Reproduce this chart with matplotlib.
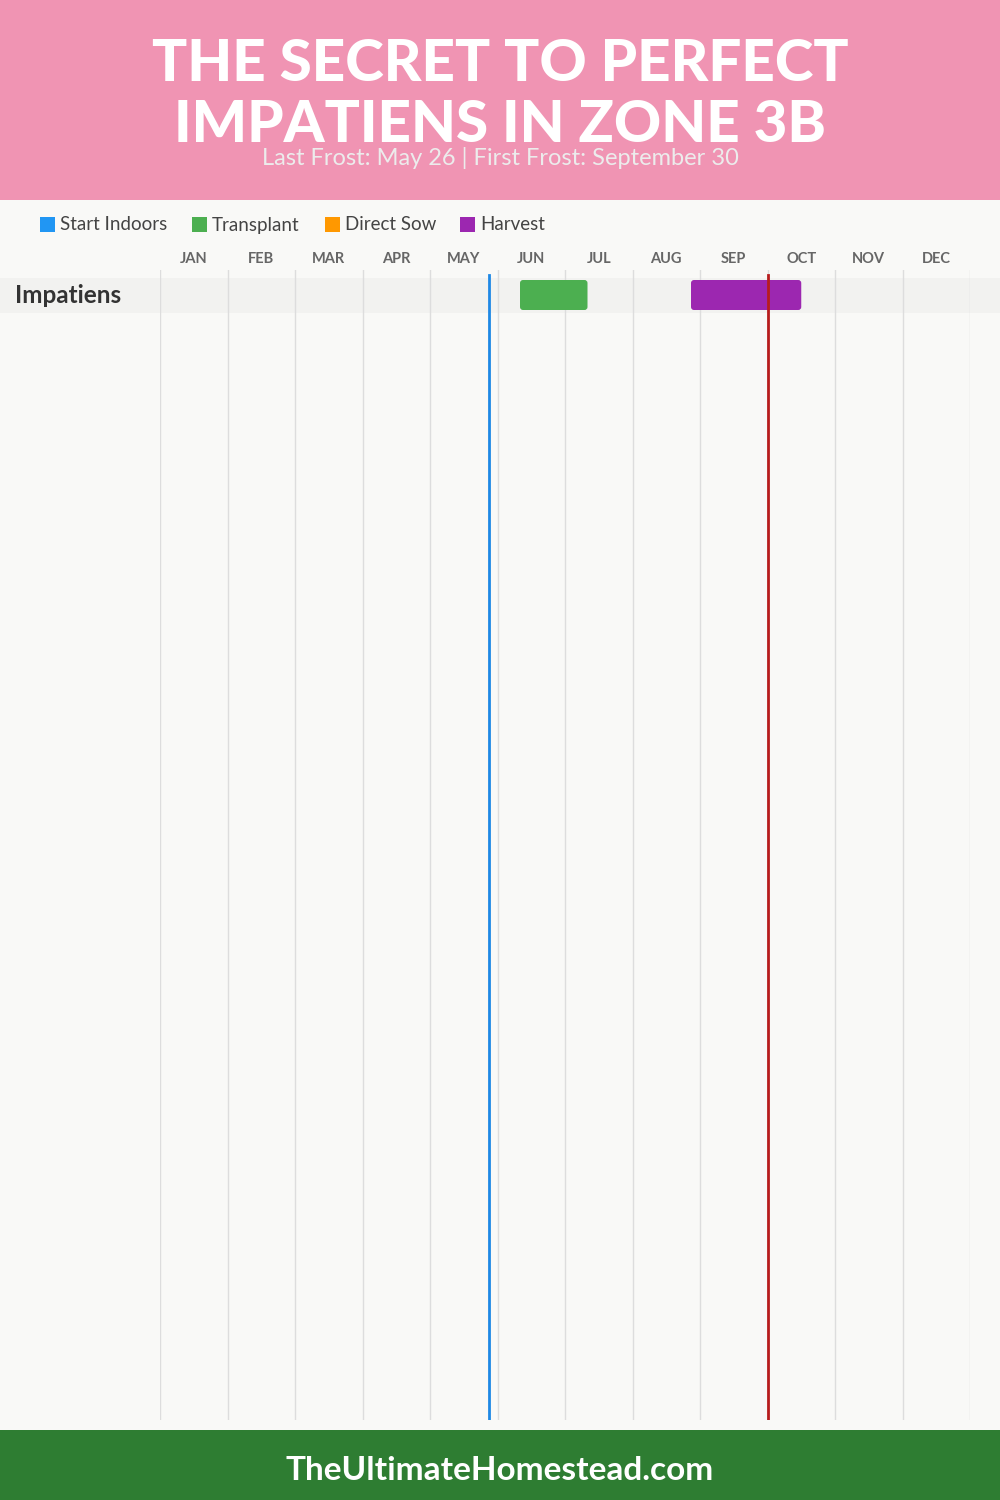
import matplotlib
matplotlib.use("Agg")
import matplotlib.pyplot as plt
from matplotlib.patches import Rectangle, FancyBboxPatch

# ---- data ----
months = ['JAN', 'FEB', 'MAR', 'APR', 'MAY', 'JUN', 'JUL', 'AUG', 'SEP', 'OCT', 'NOV', 'DEC']
crops = ['Impatiens']
transplant = [('06-10', '07-10')]
harvest = [('08-26', '10-15')]
last_frost = '05-26'
first_frost = '09-30'
legend_labels = ['Start Indoors', 'Transplant', 'Direct Sow', 'Harvest']
legend_colors = ['#2196f3', '#4caf50', '#ff9800', '#9c27b0']
title_lines = ['THE SECRET TO PERFECT', 'IMPATIENS IN ZONE 3B']
subtitle = 'Last Frost: May 26 | First Frost: September 30'
footer = 'TheUltimateHomestead.com'


def mpos(s):
    m, d = s.split('-')
    return int(m) - 1 + int(d) / 30.0


FONT = ['Lato', 'DejaVu Sans']
fig = plt.figure(figsize=(10, 15), dpi=100)
fig.patch.set_facecolor('#f9f9f7')

# background axes in pixel coordinates
bg = fig.add_axes([0, 0, 1, 1])
bg.set_xlim(0, 1000)
bg.set_ylim(1500, 0)
bg.axis('off')
bg.add_patch(Rectangle((0, 0), 1000, 200, color='#f094b3', lw=0))
bg.add_patch(Rectangle((0, 1430), 1000, 70, color='#2e7d32', lw=0))
for i, ln in enumerate(title_lines):
    bg.text(500, 81 + i * 61, ln, ha='center', va='baseline', color='white',
            fontsize=42, fontweight='black', family=FONT)
bg.text(500, 165, subtitle, ha='center', va='baseline', color='#ececec',
        fontsize=17, family=FONT)
bg.text(500, 1471, footer, ha='center', va='center', color='white',
        fontsize=24, fontweight='bold', family=FONT)

# legend
lx = [40, 192, 325, 460]
for x, lab, col in zip(lx, legend_labels, legend_colors):
    bg.add_patch(Rectangle((x, 217), 15, 15, color=col, lw=0))
    bg.text(x + 20, 225, lab, ha='left', va='center', color='#444444',
            fontsize=13.5, family=FONT)

# row bands + crop labels
row_top0 = 278
row_h = 35
for i, c in enumerate(crops):
    y = row_top0 + i * row_h
    bg.add_patch(Rectangle((0, y), 1000, row_h, color='#f2f2f0', lw=0))
    bg.text(15, y + row_h / 2, c, ha='left', va='center', color='#333333',
            fontsize=17.5, fontweight='bold', family=FONT)

# timeline axes: x in months, y in pixels
ax = fig.add_axes([0.16, 1 - 1420 / 1500, 0.81, 1150 / 1500])
ax.set_xlim(0, 12)
ax.set_ylim(1420, 270)
ax.axis('off')
ax.patch.set_alpha(0)

for m in range(13):
    ax.plot([m, m], [270, 1420], color='#dddddd', lw=1, zorder=1)
for m, lab in enumerate(months):
    ax.text(m + 0.5, 259, lab, ha='center', va='center', color='#666666',
            fontsize=10.5, fontweight='bold', family=FONT, clip_on=False)

aspect = 67.5  # px per month
for i in range(len(crops)):
    y0 = row_top0 + i * row_h + 2
    for (s, e), col in [(transplant[i], legend_colors[1]), (harvest[i], legend_colors[3])]:
        xs, xe = mpos(s), mpos(e)
        ax.add_patch(FancyBboxPatch((xs, y0), xe - xs, 30,
                                    boxstyle='round,pad=0,rounding_size=0.045',
                                    mutation_aspect=aspect, fc=col, ec='none', zorder=3))

ax.plot([mpos(last_frost)] * 2, [275, 1420], color='#1e88e5', lw=2, zorder=4)
ax.plot([mpos(first_frost)] * 2, [275, 1420], color='#b71c1c', lw=2, zorder=4)

fig.savefig('out.png', dpi=100, facecolor=fig.get_facecolor())
